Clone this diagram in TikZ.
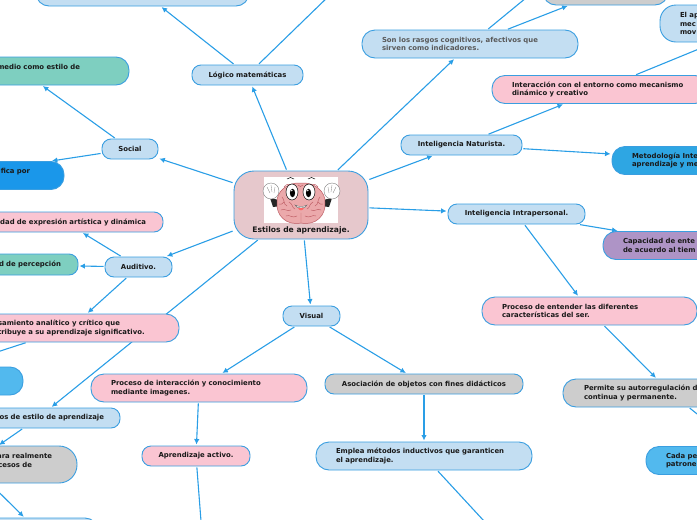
\documentclass[tikz,border=0pt]{standalone}
\usepackage{fontspec}
\setmainfont{DejaVu Sans}
\usepackage{xcolor}
\usetikzlibrary{arrows.meta,backgrounds}
\definecolor{edgeblue}{HTML}{3A9EE0}
\definecolor{linkblue}{HTML}{2A9EE6}
\definecolor{paleblue}{HTML}{C3DEF2}
\definecolor{pinkfill}{HTML}{FAC5D2}
\definecolor{grayfill}{HTML}{CDCDCD}
\definecolor{tealfill}{HTML}{7ECFC0}
\definecolor{purplefill}{HTML}{AE94C6}
\definecolor{strongblue}{HTML}{1A97EA}
\definecolor{midblue}{HTML}{2EA6E3}
\definecolor{skyblue}{HTML}{52B9EE}
\definecolor{rootfill}{HTML}{E6C8CC}
\definecolor{brainfill}{HTML}{EBA9AB}
\definecolor{brainline}{HTML}{BC5A62}
\tikzset{
  bubble/.style={draw=edgeblue, line width=0.9pt, rounded corners=13pt, inner ysep=0pt,
    minimum height=28pt, align=left, text=black!90,
    font=\fontsize{6.9}{8.6}\selectfont\bfseries},
  small/.style={bubble, rounded corners=9pt, minimum height=20pt, align=center},
  link/.style={draw=linkblue, line width=1.1pt, -{Latex[length=5.5pt,width=5.5pt]},
    shorten >=1pt, shorten <=1pt},
  eye/.style={draw=black, line width=0.5pt, fill=white},
  wrinkle/.style={draw=brainline, line width=0.45pt, line cap=round}
}
\begin{document}
\begin{tikzpicture}[x=1pt,y=-1pt]
  \useasboundingbox (0,0) rectangle (697,520);

  \node[bubble, fill=rootfill, rounded corners=20pt, minimum width=134pt, minimum height=68pt, align=center, font=\fontsize{7.6}{9}\selectfont\bfseries] (estilos) at (301,205)
  {\rule{0pt}{47pt}\\Estilos de aprendizaje.};

  \node[small, fill=paleblue, minimum width=111pt] (logico) at (247.5,75) {Lógico matemáticas};
  \node[bubble, fill=paleblue, minimum width=213pt] (topbox) at (142.5,-8) {};
  \node[small, fill=paleblue, minimum width=56pt] (social) at (130,149) {Social};
  \node[bubble, fill=tealfill, text width=116pt, inner xsep=49pt, align=right] (medio) at (22,71) {medio como estilo de\\\mbox{}};
  \node[bubble, fill=strongblue, text width=148pt, inner xsep=34pt, align=right] (ifica) at (-44,175.5) {ifica por\\\mbox{}};

  \node[small, fill=paleblue, minimum width=67pt] (auditivo) at (138.5,267) {Auditivo.};
  \node[small, fill=pinkfill, text width=162pt, inner xsep=17pt, align=right] (dad) at (65,222) {dad de expresión artística y dinámica};
  \node[small, fill=tealfill, text width=142pt, inner xsep=17pt, minimum height=21pt, align=right] (percep) at (-10,264.5) {d de percepción};
  \node[bubble, fill=pinkfill, text width=152pt, inner xsep=32pt] (pensar) at (71,328)
  {\hspace*{3pt}samiento analítico y crítico que\\\hspace*{3pt}tribuye a su aprendizaje significativo.};
  \node[bubble, fill=skyblue, minimum width=230pt] (skybox) at (-92,381) {};
  \node[small, fill=paleblue, text width=132pt, inner xsep=16pt, align=right] (tipos) at (38,418) {os de estilo de aprendizaje};
  \node[bubble, fill=grayfill, rounded corners=18pt, minimum height=37pt, text width=162pt, inner xsep=25pt, align=right] (para) at (-29,464.5)
  {ara realmente\\cesos de\hspace*{20pt}\mbox{}\\\mbox{}};
  \node[bubble, fill=paleblue, minimum width=118pt] (bottombox) at (39,532) {};

  \node[small, fill=paleblue, minimum width=57pt] (visual) at (311.5,316) {Visual};
  \node[bubble, fill=pinkfill, text width=176pt, inner xsep=20pt] (procesoimg) at (199,388)
  {Proceso de interacción y conocimiento\\mediante imagenes.};
  \node[small, fill=grayfill, minimum width=198pt] (asociacion) at (424,384) {Asociación de objetos con fines didácticos};
  \node[small, fill=pinkfill, minimum width=108pt] (activo) at (196,456) {Aprendizaje activo.};
  \node[bubble, fill=paleblue, text width=176pt, inner xsep=20pt] (emplea) at (424,456)
  {Emplea métodos inductivos que garanticen\\el aprendizaje.};

  \node[bubble, fill=paleblue, text width=176pt, inner xsep=20pt, text=black!65] (rasgos) at (470,44)
  {Son los rasgos cognitivos, afectivos que\\sirven como indicadores.};
  \node[bubble, fill=grayfill, minimum width=125pt] (topgray) at (605.5,-9) {};
  \node[bubble, fill=paleblue, rounded corners=16pt, minimum height=37pt, text width=162pt, inner xsep=20pt] (elap) at (761,23.5) {El ap\\mec\\mov};
  \node[small, fill=paleblue, minimum width=121pt] (naturista) at (461.5,145) {Inteligencia Naturista.};
  \node[bubble, fill=pinkfill, text width=180pt, inner xsep=18pt] (entorno) at (600,89.5)
  {\hspace*{2pt}Interacción con el entorno como mecanismo\\\hspace*{2pt}dinámico y creativo};
  \node[bubble, fill=midblue, text width=176pt, inner xsep=20pt] (metodo) at (720,160.5)
  {Metodología Inte\\aprendizaje y me};
  \node[small, fill=paleblue, minimum width=137pt] (intra) at (516.5,214) {Inteligencia Intrapersonal.};
  \node[bubble, fill=purplefill, text width=164pt, inner xsep=20pt] (capacidad) at (705,245.5)
  {Capacidad de ente\\de acuerdo al tiem};
  \node[bubble, fill=pinkfill, text width=175pt, inner xsep=20pt] (procesoser) at (589.5,311)
  {Proceso de entender las diferentes\\características del ser.};
  \node[bubble, fill=grayfill, text width=174pt, inner xsep=21pt] (permite) at (671,393)
  {Permite su autorregulación d\\continua y permanente.};
  \node[bubble, fill=skyblue, text width=178pt, inner xsep=20pt] (cada) at (755,460.5)
  {Cada pe\\patrone};

  \coordinate (logicoend) at (366,-40);
  \coordinate (rasgosend) at (560,-30);
  \coordinate (activoend) at (204,560);
  \coordinate (empleaend) at (520,560);

  % brain picture
  \fill[white] (264,177) rectangle (338,223);
  \fill[black!85] (270,198) -- (279,200) -- (281,206) -- (273,207) -- cycle;
  \fill[black!85] (332,198) -- (323,200) -- (321,206) -- (329,207) -- cycle;
  \filldraw[fill=white, draw=black!50, line width=0.4pt] (271,191) circle (8pt);
  \filldraw[fill=white, draw=black!50, line width=0.4pt] (332,191) circle (8pt);
  \draw[black!50, line width=0.3pt] (267,187) -- (270,193) (271,185) -- (272,192) (275,187) -- (274,193) (336,187) -- (333,193) (332,185) -- (331,192) (328,187) -- (329,193);
  \filldraw[fill=brainfill, draw=brainline, line width=0.5pt] (301,223) .. controls (286,226) and (276,215) .. (277,203) .. controls (276,192) and (287,182) .. (301,183) .. controls (315,182) and (326,192) .. (325,203) .. controls (326,215) and (316,226) .. (301,223) -- cycle;
  \draw[wrinkle] (282,197) .. controls (285,200) and (283,204) .. (287,206) (281,210) .. controls (285,208) and (287,212) .. (291,210) (286,216) .. controls (290,214) and (292,219) .. (297,216);
  \draw[wrinkle] (320,197) .. controls (317,200) and (319,204) .. (315,206) (321,210) .. controls (317,208) and (315,212) .. (311,210) (316,216) .. controls (312,214) and (310,219) .. (305,216);
  \draw[wrinkle] (301,213) -- (301,223) (289,202) .. controls (293,204) and (292,208) .. (295,209) (313,202) .. controls (309,204) and (310,208) .. (307,209);
  \draw[wrinkle] (279,204) .. controls (281,206) and (282,203) .. (284,202) (323,204) .. controls (321,206) and (320,203) .. (318,202) (284,187) .. controls (286,186) and (286,183) .. (290,185) (318,187) .. controls (316,186) and (316,183) .. (312,185) (298,185) .. controls (299,187) and (302,187) .. (303,185);
  \draw[eye] (292,192) ellipse (6pt and 8pt);
  \draw[eye] (309,192) ellipse (6pt and 8pt);
  \fill[black] (292.5,193) ellipse (2.6pt and 4.2pt);
  \fill[black] (308.5,193) ellipse (2.6pt and 4.2pt);
  \fill[white] (291.8,190.5) circle (0.8pt);
  \fill[white] (307.8,190.5) circle (0.8pt);
  \draw[black, line width=0.5pt] (287,179) .. controls (289,177) and (292,177) .. (294,179);
  \draw[black, line width=0.5pt] (308,179) .. controls (310,177) and (313,177) .. (315,179);
  \filldraw[fill=white, draw=black!70, line width=0.3pt] (295,205) .. controls (299,207) and (303,207) .. (307,205) .. controls (306,209) and (296,209) .. (295,205) -- cycle;
  \fill[red!60!white] (298,208) .. controls (299,211) and (303,211) .. (304,208) -- cycle;

  \begin{scope}[on background layer]
    \draw[link] (estilos) -- (logico);
    \draw[link] (logico) -- (topbox);
    \draw[link] (logico) -- (logicoend);
    \draw[link] (estilos) -- (social);
    \draw[link] (social) -- (medio);
    \draw[link] (social) -- (ifica);
    \draw[link] (estilos) -- (auditivo);
    \draw[link] (auditivo) -- (dad);
    \draw[link] (auditivo) -- (percep);
    \draw[link] (auditivo) -- (pensar);
    \draw[link] (pensar) -- (skybox);
    \draw[link] (estilos) -- (tipos);
    \draw[link] (tipos) -- (para);
    \draw[link] (para) -- (bottombox);
    \draw[link] (estilos) -- (visual);
    \draw[link] (visual) -- (procesoimg);
    \draw[link] (visual) -- (asociacion);
    \draw[link] (procesoimg) -- (activo);
    \draw[link] (activo) -- (activoend);
    \draw[link] (asociacion) -- (emplea);
    \draw[link] (emplea) -- (empleaend);
    \draw[link] (estilos) -- (rasgos);
    \draw[link] (rasgos) -- (rasgosend);
    \draw[link] (rasgos) -- (topgray);
    \draw[link] (estilos) -- (naturista);
    \draw[link] (naturista) -- (entorno);
    \draw[link] (naturista) -- (metodo);
    \draw[link] (entorno) -- (elap);
    \draw[link] (estilos) -- (intra);
    \draw[link] (intra) -- (capacidad);
    \draw[link] (intra) -- (procesoser);
    \draw[link] (procesoser) -- (permite);
    \draw[link] (permite) -- (cada);
  \end{scope}
\end{tikzpicture}
\end{document}
